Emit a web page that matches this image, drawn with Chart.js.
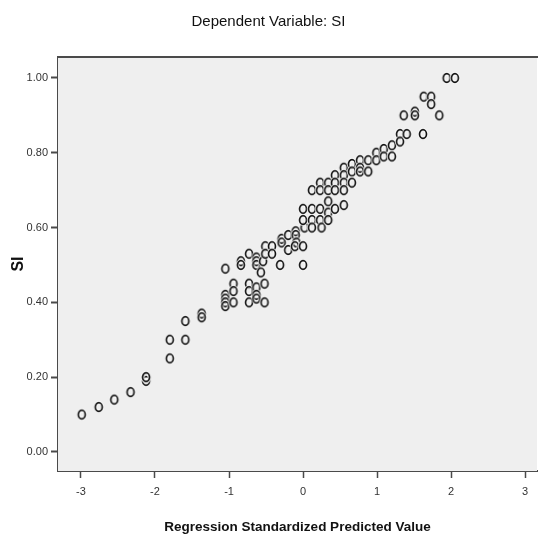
<!DOCTYPE html>
<html>
<head>
<meta charset="utf-8">
<script src="https://cdn.jsdelivr.net/npm/chart.js@4/dist/chart.umd.min.js"></script>
<style>
  html, body { margin: 0; padding: 0; background: #fff; }
  #wrap { width: 538px; height: 538px; }
</style>
</head>
<body>
<div id="wrap"><canvas id="myChart" width="538" height="538"></canvas></div>
<script>
// values
const predicted = [
  -2.99, -2.76, -2.55, -2.33, -2.12, -2.12, -2.12, -1.80, -1.80, -1.59, -1.59, -1.37, -1.37,
  -1.05, -1.05, -1.05, -1.05, -1.05, -0.94, -0.94, -0.94, -0.84, -0.84,
  -0.73, -0.73, -0.73, -0.73, -0.63, -0.63, -0.63, -0.63, -0.63, -0.63,
  -0.57, -0.54, -0.52, -0.52, -0.51, -0.51, -0.42, -0.42, -0.31, -0.29, -0.29,
  -0.20, -0.20, -0.10, -0.10, -0.09, -0.11, 0.02, 0.00, 0.00, 0.00, 0.00,
  0.12, 0.12, 0.12, 0.12, 0.23, 0.23, 0.23, 0.23, 0.25,
  0.34, 0.34, 0.34, 0.34, 0.34, 0.43, 0.43, 0.43, 0.43,
  0.55, 0.55, 0.55, 0.55, 0.55, 0.66, 0.66, 0.66, 0.77, 0.77, 0.77, 0.88, 0.88,
  0.99, 0.99, 1.09, 1.09, 1.20, 1.20, 1.31, 1.31, 1.40, 1.36, 1.51, 1.51,
  1.62, 1.63, 1.73, 1.73, 1.84, 1.94, 2.05
];
const si = [
  0.10, 0.12, 0.14, 0.16, 0.19, 0.20, 0.20, 0.30, 0.25, 0.35, 0.30, 0.37, 0.36,
  0.49, 0.42, 0.41, 0.40, 0.39, 0.45, 0.43, 0.40, 0.51, 0.50,
  0.53, 0.45, 0.43, 0.40, 0.52, 0.51, 0.50, 0.44, 0.42, 0.41,
  0.48, 0.51, 0.45, 0.40, 0.55, 0.53, 0.55, 0.53, 0.50, 0.57, 0.56,
  0.58, 0.54, 0.59, 0.58, 0.56, 0.55, 0.60, 0.55, 0.50, 0.62, 0.65,
  0.65, 0.62, 0.60, 0.70, 0.72, 0.70, 0.65, 0.62, 0.60,
  0.72, 0.70, 0.67, 0.64, 0.62, 0.74, 0.72, 0.70, 0.65,
  0.76, 0.74, 0.72, 0.70, 0.66, 0.77, 0.75, 0.72, 0.78, 0.76, 0.75, 0.78, 0.75,
  0.80, 0.78, 0.81, 0.79, 0.82, 0.79, 0.85, 0.83, 0.85, 0.90, 0.91, 0.90,
  0.85, 0.95, 0.95, 0.93, 0.90, 1.00, 1.00
];
const xTicks = [-3, -2, -1, 0, 1, 2, 3];
const yTicks = [0.00, 0.20, 0.40, 0.60, 0.80, 1.00];

const points = predicted.map((v, i) => ({ x: v, y: si[i] }));

const narrow = "'Liberation Sans Narrow', 'Liberation Sans', Arial, sans-serif";
const axisColor = '#4a4a4a';

// hollow, slightly tall circle like the SPSS marker
function makeMarker() {
  const c = document.createElement('canvas');
  c.width = 12;
  c.height = 14;
  const g = c.getContext('2d');
  g.beginPath();
  g.ellipse(6, 7, 3.5, 4.3, 0, 0, Math.PI * 2);
  g.strokeStyle = 'rgba(255,255,255,0.9)';
  g.lineWidth = 3.4;
  g.stroke();
  g.beginPath();
  g.ellipse(6, 7, 3.5, 4.3, 0, 0, Math.PI * 2);
  g.strokeStyle = '#111';
  g.lineWidth = 1.7;
  g.stroke();
  return c;
}

const plotFrame = {
  id: 'plotFrame',
  beforeDatasetsDraw(chart) {
    const { ctx, chartArea } = chart;
    ctx.save();
    ctx.fillStyle = '#efefef';
    ctx.fillRect(chartArea.left, chartArea.top, chartArea.right - chartArea.left, chartArea.bottom - chartArea.top);
    ctx.strokeStyle = axisColor;
    ctx.lineWidth = 2;
    ctx.beginPath();
    ctx.moveTo(chartArea.left, chartArea.top);
    ctx.lineTo(chartArea.right + 1, chartArea.top);
    ctx.stroke();
    ctx.restore();
  }
};

const ctx = document.getElementById('myChart').getContext('2d');
const myChart = new Chart(ctx, {
  type: 'scatter',
  data: {
    datasets: [{
      label: 'SI',
      data: points,
      pointStyle: makeMarker(),
      pointRadius: 5,
      pointHoverRadius: 5
    }]
  },
  options: {
    responsive: false,
    animation: false,
    layout: { autoPadding: false, padding: { left: 0, right: 1, top: 0, bottom: 0 } },
    plugins: {
      legend: { display: false },
      tooltip: { enabled: false },
      title: {
        display: true,
        text: 'Dependent Variable: SI',
        color: '#111',
        font: { family: narrow, size: 15, weight: 'normal' },
        padding: { top: 13, bottom: 26 }
      }
    },
    scales: {
      x: {
        type: 'linear',
        min: -3.31,
        max: 3.16,
        afterBuildTicks: (s) => { s.ticks = xTicks.map(v => ({ value: v })); },
        afterFit: (s) => { s.height = 67; s.paddingLeft = 0; s.paddingRight = 0; },
        grid: { display: true, drawOnChartArea: false, drawTicks: true, tickLength: 7, tickWidth: 1.5, color: axisColor },
        border: { display: true, color: axisColor, width: 2 },
        ticks: {
          color: '#333',
          padding: 7,
          font: { family: narrow, size: 11 },
          maxRotation: 0,
          callback: (v) => String(v)
        },
        title: {
          display: true,
          text: 'Regression Standardized Predicted Value',
          color: '#111',
          font: { family: narrow, size: 13.5, weight: 'bold' },
          padding: { top: 0, bottom: 3 }
        }
      },
      y: {
        type: 'linear',
        min: -0.051,
        max: 1.056,
        afterBuildTicks: (s) => { s.ticks = yTicks.map(v => ({ value: v })); },
        afterFit: (s) => { s.width = 58; s.paddingTop = 0; s.paddingBottom = 0; },
        grid: { display: true, drawOnChartArea: false, drawTicks: true, tickLength: 7, tickWidth: 2, color: axisColor },
        border: { display: true, color: axisColor, width: 2 },
        ticks: {
          color: '#333',
          padding: 3,
          font: { family: narrow, size: 11 },
          callback: (v) => Number(v).toFixed(2)
        },
        title: {
          display: true,
          text: 'SI',
          color: '#111',
          font: { family: narrow, size: 16, weight: 'bold' },
          padding: { top: 9, bottom: 0 }
        }
      }
    }
  },
  plugins: [plotFrame]
});
</script>
</body>
</html>
